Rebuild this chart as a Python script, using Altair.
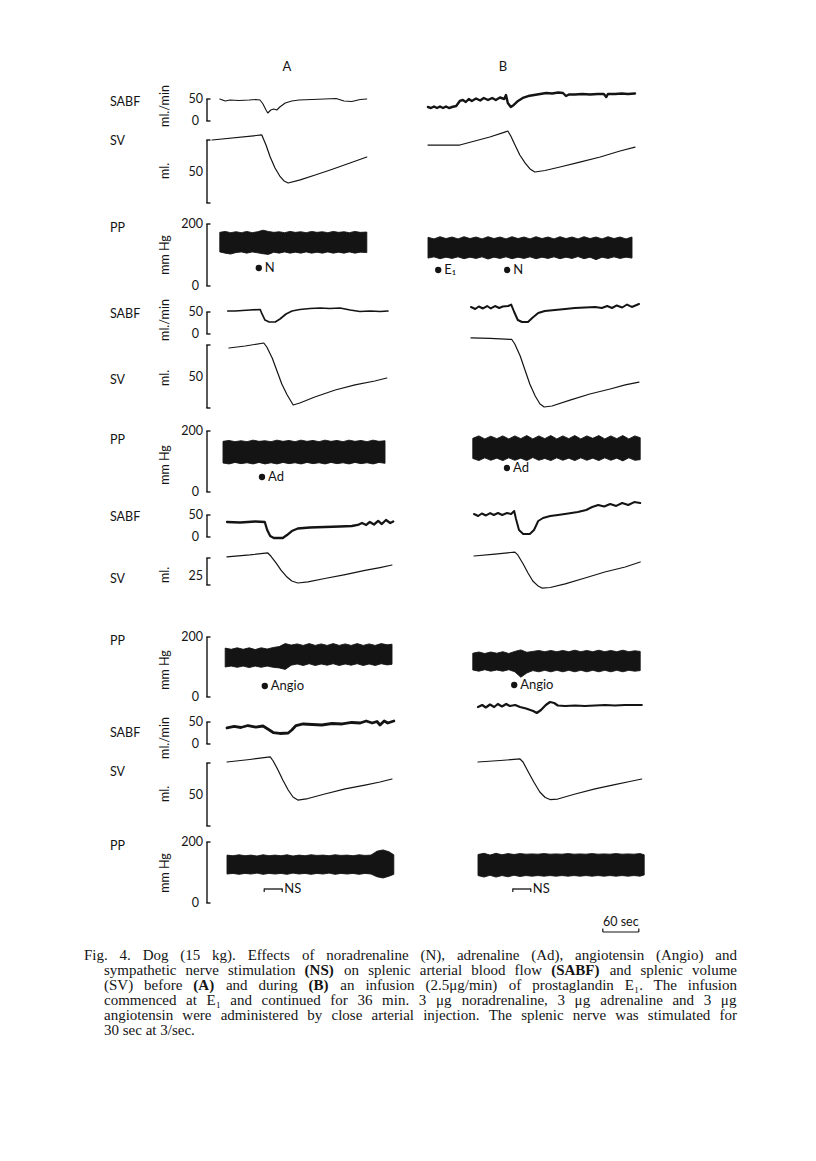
import altair as alt
import pandas as pd

INK = "#141414"
LABEL_FONT = "Lato"
SERIF = "Liberation Serif"
OX, OY = 8, 8          # page margin of the embedding page
PXS = 0.6              # page pixels per second (60 sec bar)
BRX = 207              # x of the axis brackets

# ---------------------------------------------------------------- data
# Block 1: noradrenaline (N)      SABF ml/min, SV ml, PP mmHg, t in s
A1_SABF_T = [13, 22, 30, 45, 62, 73, 80, 85, 90, 93, 98, 103, 108, 113, 122, 133, 145, 167, 187, 207, 220, 233, 247, 258]
A1_SABF_V = [50.0, 45.5, 47.7, 46.6, 47.7, 48.9, 47.7, 38.6, 25.0, 18.2, 25.0, 27.3, 25.0, 31.8, 40.9, 45.5, 47.7, 48.9, 50.0, 51.1, 45.5, 44.3, 48.9, 50.0]
B1_SABF_T = [0, 5, 10, 15, 20, 25, 30, 35, 40, 47, 53, 58, 63, 68, 73, 80, 87, 93, 100, 107, 113, 120, 127, 130, 133, 138, 143, 150, 158, 167, 177, 187, 197, 207, 217, 225, 230, 235, 245, 257, 270, 283, 293, 297, 300, 312, 323, 333, 345]
B1_SABF_V = [31.8, 29.5, 33.0, 29.5, 33.0, 29.5, 33.0, 29.5, 31.8, 34.1, 45.5, 47.7, 43.2, 50.0, 45.5, 51.1, 46.6, 52.3, 47.7, 52.3,
             47.7, 53.4, 50.0, 59.1, 40.9, 31.8, 36.4, 45.5, 52.3, 56.8, 59.1, 61.4, 63.6, 62.5, 64.8, 63.6, 56.8, 60.2, 60.2, 61.4,
             60.2, 61.4, 61.4, 54.5, 61.4, 61.4, 62.5, 61.4, 62.5]
A1_SV_T = [0, 83, 90, 97, 105, 113, 120, 127, 147, 172, 197, 230, 258]
A1_SV_V = [75.0, 79.0, 71.0, 61.5, 52.8, 46.4, 42.5, 40.9, 43.3, 47.2, 51.2, 56.7, 61.5]
B1_SV_T = [0, 53, 78, 103, 128, 133, 138, 145, 153, 162, 170, 178, 195, 220, 253, 287, 320, 345]
B1_SV_V = [71.0, 71.0, 74.2, 77.4, 81.3, 82.1, 78.2, 71.0, 63.1, 56.7, 52.0, 49.6, 50.8, 53.6, 57.5, 61.5, 66.3, 69.4]
A1_PP_T = [13, 22, 31, 40, 49, 58, 67, 76, 85, 94, 103, 112, 121, 130, 139, 148, 157, 166, 175, 184, 193, 202, 211, 220, 229, 238, 247, 258]
A1_PP_HI = [173, 176, 172, 175, 172, 176, 172, 175, 180, 176, 173, 175, 172, 176, 173, 175, 172, 176, 173, 175, 172, 176, 173, 175, 172, 176, 173, 174]
A1_PP_LO = [110, 106, 103, 108, 110, 106, 110, 107, 104, 102, 109, 106, 110, 106, 109, 106, 110, 106, 109, 106, 110, 106, 109, 106, 110, 106, 109, 108]
B1_PP_T = [0, 10, 20, 30, 40, 50, 60, 70, 80, 90, 100, 110, 120, 130, 140, 150, 160, 170, 180, 190, 200, 210, 220, 230, 240, 250, 260, 270, 280, 290, 300, 310, 320, 330, 340]
B1_PP_HI = [157, 152, 159, 153, 158, 152, 159, 153, 158, 152, 159, 153, 158, 152, 159, 153, 158, 152, 159, 153, 158, 152, 159, 153, 158, 152, 159, 153, 158, 152, 159, 153, 158, 152, 158]
B1_PP_LO = [90, 94, 88, 93, 89, 94, 88, 93, 89, 94, 87, 93, 89, 94, 88, 93, 89, 94, 88, 93, 89, 94, 88, 93, 89, 95, 88, 93, 85, 93, 89, 94, 89, 93, 90]
A1_EVENTS = [("N", 78)]
B1_EVENTS = [("E\u2081", 17), ("N", 132)]

# Block 2: adrenaline (Ad)
A2_SABF_T = [8, 20, 45, 62, 65, 70, 77, 87, 95, 105, 115, 128, 145, 162, 178, 195, 212, 228, 245, 262, 275]
A2_SABF_V = [52.3, 52.3, 54.5, 55.7, 45.5, 31.8, 27.3, 27.3, 34.1, 45.5, 52.3, 55.7, 58.0, 59.1, 58.0, 59.1, 54.5, 51.1, 52.3, 51.1, 52.3]
B2_SABF_T = [0, 7, 13, 20, 27, 33, 40, 47, 53, 62, 67, 72, 78, 85, 95, 102, 112, 123, 140, 157, 173, 190, 207, 218, 227, 235, 243, 252, 260, 268, 280]
B2_SABF_V = [61.4, 56.8, 62.5, 58.0, 63.6, 58.0, 63.6, 59.1, 62.5, 63.6, 67.0, 50.0, 31.8, 27.3, 27.3, 36.4, 47.7, 52.3, 54.5, 56.8,
             59.1, 60.2, 61.4, 59.1, 63.6, 59.1, 64.8, 60.2, 67.0, 61.4, 68.2]
A2_SV_T = [10, 37, 68, 73, 82, 90, 98, 107, 117, 128, 153, 187, 220, 253, 273]
A2_SV_V = [72.6, 74.2, 76.6, 73.4, 64.7, 54.4, 44.0, 35.3, 27.4, 29.0, 33.7, 39.3, 43.3, 46.4, 48.8]
B2_SV_T = [0, 32, 68, 73, 82, 90, 98, 107, 115, 122, 135, 165, 198, 232, 257, 280]
B2_SV_V = [80.6, 80.2, 79.4, 75.8, 66.3, 55.2, 44.0, 34.5, 28.2, 25.8, 26.6, 31.3, 36.1, 40.1, 43.3, 45.6]
A2_PP_T = [0, 10, 20, 30, 40, 50, 60, 70, 80, 90, 100, 110, 120, 130, 140, 150, 160, 170, 180, 190, 200, 210, 220, 230, 240, 250, 260, 270]
A2_PP_HI = [166, 169, 165, 168, 165, 170, 166, 168, 165, 170, 166, 169, 165, 170, 166, 169, 165, 170, 166, 169, 165, 170, 166, 169, 165, 170, 166, 168]
A2_PP_LO = [95, 92, 97, 93, 96, 92, 97, 92, 96, 92, 97, 93, 96, 92, 97, 93, 96, 92, 97, 93, 96, 92, 97, 93, 96, 92, 97, 94]
B2_PP_T = [3, 13, 23, 33, 43, 53, 63, 73, 83, 93, 103, 113, 123, 133, 143, 153, 163, 173, 183, 193, 203, 213, 223, 233, 243, 253, 263, 273, 282]
B2_PP_HI = [176, 184, 174, 183, 175, 184, 174, 184, 175, 185, 174, 184, 175, 185, 174, 184, 175, 185, 174, 184, 176, 185, 174, 184, 175, 185, 174, 184, 178]
B2_PP_LO = [110, 103, 112, 104, 111, 103, 112, 104, 111, 103, 113, 104, 110, 103, 112, 104, 111, 103, 112, 104, 111, 103, 112, 104, 111, 102, 112, 104, 106]
A2_EVENTS = [("Ad", 65)]
B2_EVENTS = [("Ad", 60)]

# Block 3: angiotensin (Angio)
A3_SABF_T = [0, 22, 47, 63, 67, 72, 78, 93, 100, 108, 118, 138, 163, 188, 208, 218, 225, 232, 238, 245, 252, 258, 265, 272, 277]
A3_SABF_V = [34.1, 33.0, 35.2, 34.1, 15.9, 2.3, -2.3, -2.3, 4.5, 13.6, 19.3, 21.6, 22.7, 23.9, 25.0, 27.3, 31.8, 27.3, 34.1, 28.4, 36.4, 29.5, 38.6, 31.8, 35.2]
B3_SABF_T = [0, 7, 13, 20, 27, 33, 40, 47, 55, 62, 67, 70, 75, 82, 93, 100, 107, 115, 127, 140, 157, 173, 187, 197, 207, 217, 227, 237, 247, 257, 267, 277]
B3_SABF_V = [52.3, 47.7, 53.4, 48.9, 54.5, 50.0, 54.5, 50.0, 54.5, 52.3, 59.1, 40.9, 15.9, 6.8, 6.8, 15.9, 36.4, 43.2, 47.7, 50.0,
             53.4, 56.8, 61.4, 68.2, 72.7, 69.3, 75.0, 70.5, 77.3, 72.7, 79.5, 77.3]
A3_SV_T = [0, 38, 68, 73, 82, 90, 100, 108, 118, 135, 163, 197, 230, 255, 275]
A3_SV_V = [35.6, 36.7, 37.8, 36.1, 32.2, 28.3, 24.4, 22.2, 21.1, 21.7, 23.6, 25.8, 28.1, 29.7, 31.1]
B3_SV_T = [0, 35, 68, 73, 82, 90, 98, 107, 113, 127, 152, 185, 218, 252, 277]
B3_SV_V = [36.1, 37.2, 38.3, 36.7, 31.7, 26.7, 22.2, 19.4, 18.3, 18.6, 20.6, 23.9, 27.2, 30.0, 32.8]
A3_PP_T = [-3, 7, 17, 27, 37, 47, 57, 67, 77, 87, 97, 107, 117, 127, 137, 147, 157, 167, 177, 187, 197, 207, 217, 227, 237, 247, 257, 267, 275]
A3_PP_HI = [163, 159, 164, 159, 164, 158, 164, 160, 165, 168, 178, 173, 177, 172, 178, 172, 177, 172, 178, 172, 177, 172, 178, 172, 177, 172, 178, 174, 176]
A3_PP_LO = [100, 103, 99, 103, 98, 103, 99, 103, 99, 97, 92, 106, 110, 105, 111, 105, 110, 106, 111, 105, 110, 106, 111, 105, 110, 105, 111, 107, 109]
B3_PP_T = [-2, 8, 18, 28, 38, 48, 58, 68, 78, 88, 98, 108, 118, 128, 138, 148, 158, 168, 178, 188, 198, 208, 218, 228, 238, 248, 258, 268, 277]
B3_PP_HI = [146, 150, 145, 150, 146, 151, 145, 152, 157, 149, 152, 155, 151, 155, 151, 155, 151, 156, 151, 155, 151, 156, 151, 155, 151, 156, 151, 154, 152]
B3_PP_LO = [90, 86, 91, 86, 90, 86, 91, 84, 66, 80, 88, 84, 89, 84, 89, 84, 89, 84, 89, 84, 89, 84, 89, 84, 89, 84, 89, 86, 88]
A3_EVENTS = [("Angio", 63)]
B3_EVENTS = [("Angio", 67)]

# Block 4: sympathetic nerve stimulation (NS)
A4_SABF_T = [0, 12, 23, 35, 48, 60, 68, 77, 88, 102, 108, 115, 127, 142, 158, 175, 192, 208, 222, 232, 242, 250, 255, 262, 268, 278]
A4_SABF_V = [36.4, 39.8, 37.5, 42.0, 38.6, 40.9, 34.1, 26.1, 23.9, 25.0, 31.8, 42.0, 45.5, 44.3, 43.2, 46.6, 45.5, 48.9, 47.7, 52.3,
             47.7, 51.1, 43.2, 52.3, 47.7, 52.3]
B4_SABF_T = [0, 7, 13, 20, 27, 33, 40, 47, 53, 62, 70, 80, 92, 98, 105, 113, 120, 127, 133, 145, 162, 178, 195, 212, 228, 245, 273]
B4_SABF_V = [38.6, 43.2, 37.5, 44.3, 38.6, 45.5, 39.8, 45.5, 40.9, 43.2, 38.6, 35.2, 29.5, 25.0, 31.8, 43.2, 50.0, 47.7, 42.0, 40.9,
             42.0, 40.9, 42.0, 43.2, 42.0, 43.2, 43.2]
A4_SV_T = [0, 38, 72, 77, 85, 93, 102, 110, 118, 135, 163, 197, 230, 255, 275]
A4_SV_V = [75.8, 77.8, 79.8, 76.6, 69.4, 61.5, 53.6, 48.0, 45.6, 46.8, 50.4, 54.4, 57.5, 59.9, 62.3]
B4_SV_T = [0, 37, 70, 75, 83, 93, 103, 112, 120, 133, 162, 195, 228, 253, 273]
B4_SV_V = [75.8, 77.0, 78.2, 75.8, 68.7, 59.9, 52.0, 47.6, 46.0, 46.4, 50.4, 54.4, 57.9, 60.3, 62.3]
A4_PP_T = [0, 10, 20, 30, 40, 50, 60, 70, 80, 90, 100, 110, 120, 130, 140, 150, 160, 170, 180, 190, 200, 210, 220, 230, 240, 250, 260, 270, 278]
A4_PP_HI = [157, 155, 158, 155, 157, 154, 158, 155, 157, 155, 158, 154, 157, 155, 158, 156, 157, 155, 158, 156, 157, 155, 158, 156, 157, 170, 174, 168, 158]
A4_PP_LO = [95, 97, 94, 97, 95, 98, 94, 97, 95, 97, 94, 98, 95, 97, 94, 97, 95, 98, 94, 97, 95, 97, 94, 97, 95, 86, 82, 88, 94]
B4_PP_T = [0, 10, 20, 30, 40, 50, 60, 70, 80, 90, 100, 110, 120, 130, 140, 150, 160, 170, 180, 190, 200, 210, 220, 230, 240, 250, 260, 270, 277]
B4_PP_HI = [159, 163, 157, 163, 158, 162, 159, 162, 160, 161, 160, 162, 160, 161, 160, 162, 160, 161, 160, 162, 160, 161, 160, 162, 160, 161, 160, 162, 158]
B4_PP_LO = [90, 85, 91, 85, 90, 86, 91, 87, 90, 88, 90, 88, 90, 88, 90, 88, 90, 88, 90, 88, 90, 88, 90, 88, 90, 88, 90, 88, 92]
A4_NS = (62, 92)          # start, end of nerve stimulation (s)
B4_NS = (58, 88)
TIME_BAR = (208, 268)     # 60 sec calibration

ROW_NAMES = ["SABF", "SV", "PP"]
COLUMN_TITLES = ["A", "B"]
CAPTION = [
    "Fig. 4.  Dog (15 kg).  Effects of noradrenaline (N), adrenaline (Ad), angiotensin (Angio) and",
    "sympathetic nerve stimulation (NS) on splenic arterial blood flow (SABF) and splenic volume",
    "(SV) before (A) and during (B) an infusion (2.5\u03bcg/min) of prostaglandin E\u2081.  The infusion",
    "commenced at E\u2081 and continued for 36 min.  3 \u03bcg noradrenaline, 3 \u03bcg adrenaline and 3 \u03bcg",
    "angiotensin were administered by close arterial injection.  The splenic nerve was stimulated for",
    "30 sec at 3/sec.",
]
BOLD_WORDS = {"(NS)", "(SABF)", "(A)", "(B)"}

# ---------------------------------------------------------------- layout
BLOCKS = [
    dict(xA=212, xB=428, sabf=(121, 99), sabfB=(121, 99), sv=(25, 75, 203, 140), pp=(286, 224),
         sv_tick=50, sabf_unit=True, rows_y=(102, 141, 228), unit_y=(106, 171, 255),
         evA=268, evB=270),
    dict(xA=223, xB=471, sabf=(334, 312), sabfB=(334, 312), sv=(25, 75, 408, 345), pp=(492, 431),
         sv_tick=50, sabf_unit=True, rows_y=(314, 380, 440), unit_y=(320, 378, 465),
         evA=477, evB=468),
    dict(xA=227, xB=474, sabf=(537, 515), sabfB=(537, 515), sv=(20, 35, 585, 558), pp=(697, 637),
         sv_tick=25, sabf_unit=False, rows_y=(517, 579, 641), unit_y=(None, 575, 670),
         evA=686, evB=685),
    dict(xA=227, xB=478, sabf=(744, 722), sabfB=(724, 702), sv=(25, 75, 826, 763), pp=(903, 842),
         sv_tick=50, sabf_unit=True, rows_y=(733, 772, 846), unit_y=(738, 794, 873),
         evA=889, evB=889),
]
DATA = [
    (A1_SABF_T, A1_SABF_V, B1_SABF_T, B1_SABF_V, A1_SV_T, A1_SV_V, B1_SV_T, B1_SV_V,
     A1_PP_T, A1_PP_HI, A1_PP_LO, B1_PP_T, B1_PP_HI, B1_PP_LO, A1_EVENTS, B1_EVENTS, (1.1, 2.4)),
    (A2_SABF_T, A2_SABF_V, B2_SABF_T, B2_SABF_V, A2_SV_T, A2_SV_V, B2_SV_T, B2_SV_V,
     A2_PP_T, A2_PP_HI, A2_PP_LO, B2_PP_T, B2_PP_HI, B2_PP_LO, A2_EVENTS, B2_EVENTS, (1.7, 2.0)),
    (A3_SABF_T, A3_SABF_V, B3_SABF_T, B3_SABF_V, A3_SV_T, A3_SV_V, B3_SV_T, B3_SV_V,
     A3_PP_T, A3_PP_HI, A3_PP_LO, B3_PP_T, B3_PP_HI, B3_PP_LO, A3_EVENTS, B3_EVENTS, (2.3, 2.0)),
    (A4_SABF_T, A4_SABF_V, B4_SABF_T, B4_SABF_V, A4_SV_T, A4_SV_V, B4_SV_T, B4_SV_V,
     A4_PP_T, A4_PP_HI, A4_PP_LO, B4_PP_T, B4_PP_HI, B4_PP_LO, [], [], (2.8, 2.2)),
]


def xscale(x0):
    return alt.Scale(domain=[0, 100], range=[x0 - OX, x0 - OX + 100 * PXS], nice=False, zero=False)


def yscale(v0, v1, p0, p1):
    return alt.Scale(domain=[v0, v1], range=[p0 - OY, p1 - OY], nice=False, zero=False)


def trace(t, v, xs, ys, sw):
    return alt.Chart(pd.DataFrame({"t": t, "v": v})).mark_line(
        color=INK, strokeWidth=sw, strokeJoin="round", strokeCap="round"
    ).encode(x=alt.X("t:Q", scale=xs, axis=None), y=alt.Y("v:Q", scale=ys, axis=None))


def band(t, hi, lo, xs, ys):
    return alt.Chart(pd.DataFrame({"t": t, "hi": hi, "lo": lo})).mark_area(
        color=INK, opacity=1, stroke=INK, strokeWidth=0.9, strokeJoin="round"
    ).encode(x=alt.X("t:Q", scale=xs, axis=None), y=alt.Y("hi:Q", scale=ys, axis=None), y2="lo:Q")


def bracket(ys, lo, hi, ticks):
    d = alt.Chart(pd.DataFrame({"lo": [lo], "hi": [hi]}))
    parts = [
        d.mark_rule(color=INK, strokeWidth=1.4).encode(
            x=alt.value(BRX - OX), y=alt.Y("lo:Q", scale=ys, axis=None), y2="hi:Q"),
        d.mark_rule(color=INK, strokeWidth=1.4).encode(
            x=alt.value(BRX - OX - 0.7), x2=alt.value(BRX - OX + 3.5), y=alt.Y("lo:Q", scale=ys, axis=None)),
        d.mark_rule(color=INK, strokeWidth=1.4).encode(
            x=alt.value(BRX - OX - 0.7), x2=alt.value(BRX - OX + 3.5), y=alt.Y("hi:Q", scale=ys, axis=None)),
    ]
    for val, lab, right in ticks:
        parts.append(
            alt.Chart(pd.DataFrame({"v": [val], "lab": [lab]})).mark_text(
                align="right", baseline="middle", font=LABEL_FONT, fontSize=12.5, color=INK
            ).encode(x=alt.value(right - OX), y=alt.Y("v:Q", scale=ys, axis=None), text="lab:N"))
    return parts


def events(xs, evs, py):
    df = pd.DataFrame({"lab": [e[0] for e in evs], "t": [e[1] for e in evs]})
    dot = alt.Chart(df).mark_circle(color=INK, opacity=1, size=40).encode(
        x=alt.X("t:Q", scale=xs, axis=None), y=alt.value(py - OY))
    txt = alt.Chart(df).mark_text(align="left", baseline="middle", dx=6, font=LABEL_FONT,
                                  fontSize=13, color=INK).encode(
        x=alt.X("t:Q", scale=xs, axis=None), y=alt.value(py - OY), text="lab:N")
    return [dot, txt]


def stim_bar(xs, span, py, label):
    df = pd.DataFrame({"a": [span[0]], "b": [span[1]], "lab": [label]})
    c = alt.Chart(df)
    return [
        c.mark_rule(color=INK, strokeWidth=1.3).encode(
            x=alt.X("a:Q", scale=xs, axis=None), x2="b:Q", y=alt.value(py - OY)),
        c.mark_rule(color=INK, strokeWidth=1.2).encode(
            x=alt.X("a:Q", scale=xs, axis=None), y=alt.value(py - OY - 0.5), y2=alt.value(py - OY + 3)),
        c.mark_rule(color=INK, strokeWidth=1.2).encode(
            x=alt.X("b:Q", scale=xs, axis=None), y=alt.value(py - OY - 0.5), y2=alt.value(py - OY + 3)),
        c.mark_text(align="left", baseline="middle", dx=2, font=LABEL_FONT, fontSize=13, color=INK).encode(
            x=alt.X("b:Q", scale=xs, axis=None), y=alt.value(py - OY), text="lab:N"),
    ]


def time_bar(xs, span, py):
    df = pd.DataFrame({"a": [span[0]], "b": [span[1]], "m": [(span[0] + span[1]) / 2], "lab": ["60 sec"]})
    c = alt.Chart(df)
    return [
        c.mark_rule(color=INK, strokeWidth=1.2).encode(
            x=alt.X("a:Q", scale=xs, axis=None), x2="b:Q", y=alt.value(py - OY)),
        c.mark_rule(color=INK, strokeWidth=1.2).encode(
            x=alt.X("a:Q", scale=xs, axis=None), y=alt.value(py - OY - 3.5), y2=alt.value(py - OY)),
        c.mark_rule(color=INK, strokeWidth=1.2).encode(
            x=alt.X("b:Q", scale=xs, axis=None), y=alt.value(py - OY - 3.5), y2=alt.value(py - OY)),
        c.mark_text(align="center", baseline="middle", font=LABEL_FONT, fontSize=12.5, color=INK).encode(
            x=alt.X("m:Q", scale=xs, axis=None), y=alt.value(py - OY - 10), text="lab:N"),
    ]


def text_layer(items, **style):
    df = pd.DataFrame({"lab": [i[0] for i in items], "px": [i[1] - OX for i in items],
                       "py": [i[2] - OY for i in items]})
    return alt.Chart(df).mark_text(color=INK, **style).encode(
        x=alt.X("px:Q", scale=None, axis=None), y=alt.Y("py:Q", scale=None, axis=None), text="lab:N")


layers = []
row_labels, unit_labels = [], []
for bi, (lay, dat) in enumerate(zip(BLOCKS, DATA)):
    (aST, aSV_, bST, bSV_, aVT, aVV, bVT, bVV, aPT, aPH, aPL, bPT, bPH, bPL, evA, evB, sw) = dat
    xa, xb = xscale(lay["xA"]), xscale(lay["xB"])
    ys_sabf = yscale(0, 50, *lay["sabf"])
    ys_sabfB = yscale(0, 50, *lay["sabfB"])
    v0, v1, p0, p1 = lay["sv"]
    ys_sv = yscale(v0, v1, p0, p1)
    ys_pp = yscale(0, 200, *lay["pp"])

    layers.append(alt.layer(trace(aST, aSV_, xa, ys_sabf, sw[0]),
                            *bracket(ys_sabf, 0, 50, [(50, "50", 203), (0, "0", 199)])))
    layers.append(trace(bST, bSV_, xb, ys_sabfB, sw[1]))
    layers.append(alt.layer(trace(aVT, aVV, xa, ys_sv, 1.2),
                            *bracket(ys_sv, v0, v1, [(lay["sv_tick"], str(lay["sv_tick"]), 203)])))
    layers.append(trace(bVT, bVV, xb, ys_sv, 1.2))
    a_pp = [band(aPT, aPH, aPL, xa, ys_pp)] + bracket(ys_pp, 0, 200, [(200, "200", 203), (0, "0", 199)])
    b_pp = [band(bPT, bPH, bPL, xb, ys_pp)]
    if evA:
        a_pp += events(xa, evA, lay["evA"])
    if evB:
        b_pp += events(xb, evB, lay["evB"])
    if bi == 3:
        a_pp += stim_bar(xa, A4_NS, lay["evA"], "NS")
        b_pp += stim_bar(xb, B4_NS, lay["evB"], "NS")
        b_pp += time_bar(xb, TIME_BAR, 932)
    layers.append(alt.layer(*a_pp))
    layers.append(alt.layer(*b_pp))

    for name, ry in zip(ROW_NAMES, lay["rows_y"]):
        row_labels.append((name, 110, ry))
    uy = lay["unit_y"]
    if uy[0] is not None:
        unit_labels.append(("ml./min", 165, uy[0]))
    unit_labels.append(("ml.", 165, uy[1]))
    unit_labels.append(("mm Hg", 165, uy[2]))

layers.append(text_layer(row_labels, align="left", baseline="middle", font=LABEL_FONT, fontSize=12.5))
layers.append(text_layer(unit_labels, align="center", baseline="middle", angle=270,
                         font=LABEL_FONT, fontSize=12.5))
layers.append(text_layer([(COLUMN_TITLES[0], 287, 67), (COLUMN_TITLES[1], 503, 67)],
                         align="center", baseline="middle", font=LABEL_FONT, fontSize=13))

# ---- justified caption (Times metrics, 1/1000 em)
TW = {" ": 250, "(": 333, ")": 333, ".": 250, ",": 250, "/": 278, "-": 333, "\u03bc": 576, "\u2081": 330}
TW.update({c: 500 for c in "0123456789"})
TW.update(dict(zip("ABCDEFGHIJKLMNOPQRSTUVWXYZ",
                   [722, 667, 667, 722, 611, 556, 722, 722, 333, 389, 722, 611, 889, 722, 722, 556, 722, 667, 556,
                    611, 722, 722, 944, 722, 722, 611])))
TW.update(dict(zip("abcdefghijklmnopqrstuvwxyz",
                   [444, 500, 444, 500, 444, 333, 500, 500, 278, 278, 500, 278, 778, 500, 500, 500, 500, 333, 389,
                    278, 500, 500, 722, 500, 500, 444])))
CAP_SIZE = 15
CAP_LEFT = [84, 104, 104, 104, 104, 104]
CAP_RIGHT = 737
CAP_Y0, CAP_DY = 959.5, 15.1


def wwidth(w, bold):
    return sum(TW.get(ch, 500) for ch in w) * CAP_SIZE / 1000 * (1.04 if bold else 1.0)


norm_words, bold_words = [], []
for li, line in enumerate(CAPTION):
    words = line.split()
    widths = [wwidth(w, w in BOLD_WORDS) for w in words]
    last = li == len(CAPTION) - 1
    gap = 0.25 * CAP_SIZE if last else (CAP_RIGHT - CAP_LEFT[li] - sum(widths)) / (len(words) - 1)
    x = CAP_LEFT[li]
    for w, wd in zip(words, widths):
        (bold_words if w in BOLD_WORDS else norm_words).append((w, x, CAP_Y0 + li * CAP_DY))
        x += wd + gap

layers.append(text_layer(norm_words, align="left", baseline="alphabetic", font=SERIF, fontSize=CAP_SIZE))
layers.append(text_layer(bold_words, align="left", baseline="alphabetic", font=SERIF, fontSize=CAP_SIZE,
                         fontWeight="bold"))

chart = alt.layer(*layers).resolve_scale(x="independent", y="independent").properties(
    width=800, height=1145, padding=0, autosize=alt.AutoSizeParams(type="none")
).configure_view(stroke=None)

chart.save("out.html", embed_options={"renderer": "svg", "actions": False})
